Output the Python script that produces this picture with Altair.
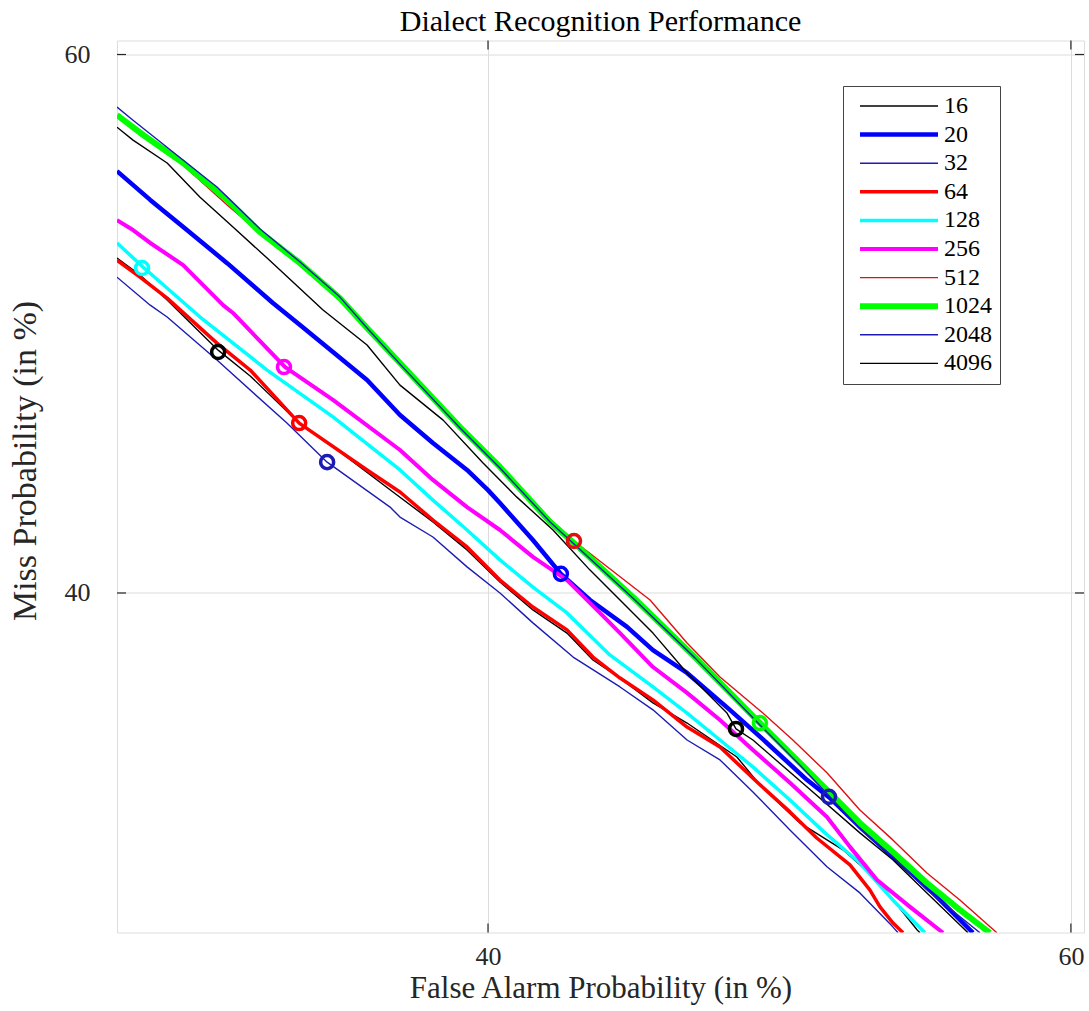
import altair as alt
import pandas as pd

# ---------------- data ----------------
series_labels = ["16", "20", "32", "64", "128", "256", "512", "1024", "2048", "4096"]
series_colors = ["#000000", "#0000ff", "#1c1cb4", "#ff0000", "#00ffff",
                 "#ff00ff", "#e01010", "#00ff00", "#1c1cb4", "#000000"]
series_widths = [1.4, 4.5, 1.4, 3.5, 3.5, 4.0, 1.4, 6.0, 1.4, 1.4]

fa_16 = [27.27, 28.06, 28.99, 30.74, 31.84, 33.55, 34.92, 36.74, 38.11, 39.28, 40.41, 41.54,
         42.71, 43.60, 44.53, 45.66, 46.83, 48.54, 49.33, 50.70, 52.18, 53.35, 54.72, 54.82]
miss_16 = [52.44, 51.81, 50.88, 49.02, 48.06, 46.28, 45.24, 43.75, 42.64, 41.60, 40.41, 39.37,
           38.51, 37.51, 36.84, 35.92, 35.17, 33.91, 32.87, 31.46, 30.46, 29.34, 27.49, 27.38]

fa_20 = [27.27, 28.41, 29.67, 31.05, 32.62, 33.55, 34.68, 35.85, 36.98, 38.11, 39.28, 40.00, 40.41,
         41.54, 42.50, 43.50, 44.77, 45.66, 46.83, 48.30, 49.57, 50.94, 51.73, 52.76, 53.89, 55.06, 56.64]
miss_20 = [55.67, 54.60, 53.48, 52.25, 50.77, 49.95, 48.95, 47.91, 46.61, 45.57, 44.57, 43.82, 43.34,
           41.97, 40.71, 39.74, 38.74, 37.88, 37.03, 35.66, 34.43, 33.06, 32.39, 31.31, 30.20, 29.08, 27.38]

fa_32 = [27.27, 28.41, 28.99, 30.70, 33.10, 34.48, 36.64, 36.98, 38.11, 39.28, 40.41, 41.54,
         42.92, 44.53, 45.66, 46.83, 47.96, 49.09, 50.36, 51.63, 52.76, 53.89, 54.07]
miss_32 = [51.73, 50.69, 50.25, 48.65, 46.31, 44.86, 43.19, 42.82, 42.08, 40.97, 40.00, 38.89,
           37.62, 36.51, 35.66, 34.54, 33.80, 32.61, 31.20, 29.83, 28.86, 27.60, 27.38]

fa_64 = [27.27, 28.06, 28.99, 30.70, 31.84, 33.52, 35.85, 36.98, 38.11, 39.28, 40.41, 41.54, 42.71,
         43.60, 44.53, 45.66, 46.83, 47.96, 49.23, 50.36, 51.28, 52.42, 53.10, 53.45, 53.89, 54.24]
miss_64 = [52.36, 51.73, 50.95, 49.28, 48.28, 46.31, 44.57, 43.75, 42.71, 41.71, 40.48, 39.48, 38.63,
           37.62, 36.84, 36.03, 35.02, 34.28, 32.98, 31.87, 30.90, 29.90, 28.97, 28.34, 27.75, 27.38]

fa_128 = [27.27, 28.17, 30.12, 32.42, 34.68, 36.98, 38.11, 39.28, 40.41, 41.54, 42.71,
          44.18, 45.66, 46.83, 47.96, 49.09, 50.36, 51.56, 52.76, 53.89, 54.99]
miss_128 = [53.00, 52.10, 50.25, 48.28, 46.54, 44.57, 43.45, 42.34, 41.23, 40.22, 39.26,
            37.70, 36.51, 35.54, 34.54, 33.54, 32.31, 31.09, 29.97, 28.60, 27.38]

fa_256 = [27.27, 27.82, 28.41, 29.54, 30.91, 31.25, 33.04, 34.68, 36.98, 38.11, 39.28, 40.41, 41.54,
          42.71, 43.84, 44.53, 45.66, 46.83, 47.96, 49.09, 50.36, 51.63, 52.42, 53.35, 54.48, 55.61]
miss_256 = [53.85, 53.48, 53.00, 52.18, 50.69, 50.40, 48.39, 47.17, 45.31, 44.20, 43.19, 42.34, 41.34,
            40.48, 39.26, 38.51, 37.25, 36.29, 35.28, 34.17, 32.95, 31.68, 30.57, 29.34, 28.34, 27.38]

fa_512 = [27.27, 28.17, 29.54, 31.05, 32.18, 33.55, 34.92, 35.85, 36.98, 39.04, 40.41, 42.13,
          42.95, 45.56, 46.83, 47.96, 49.43, 50.46, 51.63, 52.76, 53.89, 55.06, 56.19, 57.46]
miss_512 = [57.71, 56.93, 55.89, 54.41, 53.37, 52.18, 50.92, 49.80, 48.54, 46.20, 44.72, 42.75,
            41.93, 39.74, 38.14, 36.88, 35.54, 34.54, 33.32, 31.94, 30.83, 29.60, 28.60, 27.38]

fa_1024 = [27.27, 28.17, 29.54, 31.05, 32.18, 33.55, 34.92, 35.85, 36.98, 39.04, 40.41,
           42.13, 42.95, 44.97, 47.10, 49.33, 51.63, 52.76, 53.89, 55.06, 56.19, 57.22]
miss_1024 = [57.75, 57.01, 55.97, 54.60, 53.40, 52.25, 50.95, 49.84, 48.54, 46.16, 44.68,
             42.64, 41.86, 39.85, 37.62, 35.17, 32.69, 31.46, 30.38, 29.23, 28.23, 27.38]

fa_2048 = [27.27, 27.82, 29.33, 30.70, 32.18, 33.55, 34.92, 35.85, 36.98, 39.04, 40.41,
           42.13, 42.95, 44.97, 47.10, 49.33, 50.70, 51.73, 52.76, 53.89, 55.06, 56.88]
miss_2048 = [58.05, 57.56, 56.26, 55.08, 53.52, 52.29, 50.99, 49.84, 48.50, 46.13, 44.64,
             42.64, 41.82, 39.81, 37.59, 35.10, 33.61, 32.43, 31.24, 30.20, 28.97, 27.38]

fa_4096 = [27.27, 27.82, 28.99, 30.12, 31.25, 32.42, 34.34, 35.85, 36.98, 38.46, 39.83, 40.99, 42.23,
           43.50, 44.70, 45.66, 46.83, 48.20, 48.51, 49.09, 50.94, 52.76, 53.89, 55.06, 56.47]
miss_4096 = [57.30, 56.82, 55.97, 54.70, 53.59, 52.44, 50.51, 49.21, 47.72, 46.42, 44.83, 43.56, 42.34,
             40.85, 39.55, 38.51, 37.03, 35.54, 34.95, 34.54, 32.80, 31.09, 30.09, 28.86, 27.38]

# operating-point markers (one per series, in legend order)
marker_fa = [30.74, 42.50, 34.48, 33.52, 28.13, 33.00, 42.95, 49.33, 51.70, 48.51]
marker_miss = [48.95, 40.71, 44.86, 46.31, 52.07, 48.39, 41.93, 35.17, 32.43, 34.95]

tick_values = [40, 60]

title_text = "Dialect Recognition Performance"
x_title = "False Alarm Probability (in %)"
y_title = "Miss Probability (in %)"

# ---------------- tables ----------------
curves = {
    "16": (fa_16, miss_16), "20": (fa_20, miss_20), "32": (fa_32, miss_32),
    "64": (fa_64, miss_64), "128": (fa_128, miss_128), "256": (fa_256, miss_256),
    "512": (fa_512, miss_512), "1024": (fa_1024, miss_1024),
    "2048": (fa_2048, miss_2048), "4096": (fa_4096, miss_4096),
}
rows = []
for lab in series_labels:
    xs, ys = curves[lab]
    for i, (a, b) in enumerate(zip(xs, ys)):
        rows.append({"series": lab, "fa": a, "miss": b, "i": i})
df = pd.DataFrame(rows)

mk = pd.DataFrame({"series": series_labels, "fa": marker_fa, "miss": marker_miss})
ticks_df = pd.DataFrame({"v": tick_values})

# ---------------- chart ----------------
W, H = 967, 892
FONT = "Liberation Serif"
AX = "#262626"

x_scale = alt.Scale(domain=[27.27, 60.45], nice=False, zero=False)
y_scale = alt.Scale(domain=[27.39, 60.52], nice=False, zero=False)
color_scale = alt.Scale(type="ordinal", domain=series_labels, range=series_colors)
width_scale = alt.Scale(type="ordinal", domain=series_labels, range=series_widths)

legend = alt.Legend(
    title=None, orient="none", legendX=726, legendY=45.5,
    symbolType="M0,0H15.6", symbolSize=100, symbolOffset=-3,
    labelOffset=72, padding=8, rowPadding=4.6,
    labelFont=FONT, labelFontSize=24, labelColor="black", labelLimit=0,
    strokeColor="#444444", fillColor="white", symbolFillColor="transparent",
)

x_axis = alt.Axis(
    values=tick_values, title=x_title, grid=True, gridColor="#dcdcdc", gridWidth=1,
    ticks=False, domain=False, labelFlush=False, format="d",
    labelFont=FONT, labelFontSize=26, labelColor=AX, labelPadding=11,
    titleFont=FONT, titleFontSize=31, titleFontWeight="normal", titleColor=AX, titlePadding=4,
)
y_axis = alt.Axis(
    values=tick_values, title=y_title, grid=True, gridColor="#dcdcdc", gridWidth=1,
    ticks=False, domain=False, labelFlush=False, format="d",
    labelFont=FONT, labelFontSize=26, labelColor=AX, labelPadding=27,
    titleFont=FONT, titleFontSize=34, titleFontWeight="normal", titleColor=AX, titlePadding=22,
    titleY=420,
)

lines = alt.Chart(df).mark_line(clip=True, strokeJoin="round").encode(
    x=alt.X("fa:Q", scale=x_scale, axis=x_axis),
    y=alt.Y("miss:Q", scale=y_scale, axis=y_axis),
    color=alt.Color("series:N", scale=color_scale, legend=legend),
    strokeWidth=alt.StrokeWidth("series:N", scale=width_scale, legend=legend),
    order="i:Q",
)

points = alt.Chart(mk).mark_point(shape="circle", filled=False, size=170, strokeWidth=3.5,
                                  opacity=1, clip=True).encode(
    x=alt.X("fa:Q", scale=x_scale),
    y=alt.Y("miss:Q", scale=y_scale),
    color=alt.Color("series:N", scale=color_scale, legend=None),
)

tick_len = 9
tick_bottom = alt.Chart(ticks_df).mark_rule(color=AX, strokeWidth=1.2).encode(
    x=alt.X("v:Q", scale=x_scale), y=alt.value(H), y2=alt.value(H - tick_len))
tick_top = alt.Chart(ticks_df).mark_rule(color=AX, strokeWidth=1.2).encode(
    x=alt.X("v:Q", scale=x_scale), y=alt.value(0), y2=alt.value(tick_len))
tick_left = alt.Chart(ticks_df).mark_rule(color=AX, strokeWidth=1.2).encode(
    y=alt.Y("v:Q", scale=y_scale), x=alt.value(0), x2=alt.value(tick_len))
tick_right = alt.Chart(ticks_df).mark_rule(color=AX, strokeWidth=1.2).encode(
    y=alt.Y("v:Q", scale=y_scale), x=alt.value(W), x2=alt.value(W - tick_len))

chart = alt.layer(lines, points, tick_bottom, tick_top, tick_left, tick_right).properties(
    width=W, height=H,
    title=alt.TitleParams(title_text, font=FONT, fontSize=30, fontWeight="normal",
                          color="#000000", anchor="middle", offset=3),
    autosize=alt.AutoSizeParams(type="none"),
    padding={"left": 117, "top": 40.5, "right": 5, "bottom": 78.5},
).configure_view(stroke=AX, strokeWidth=1.5).configure(background="white")

chart.save("out.html", embed_options={"renderer": "svg", "actions": False})
